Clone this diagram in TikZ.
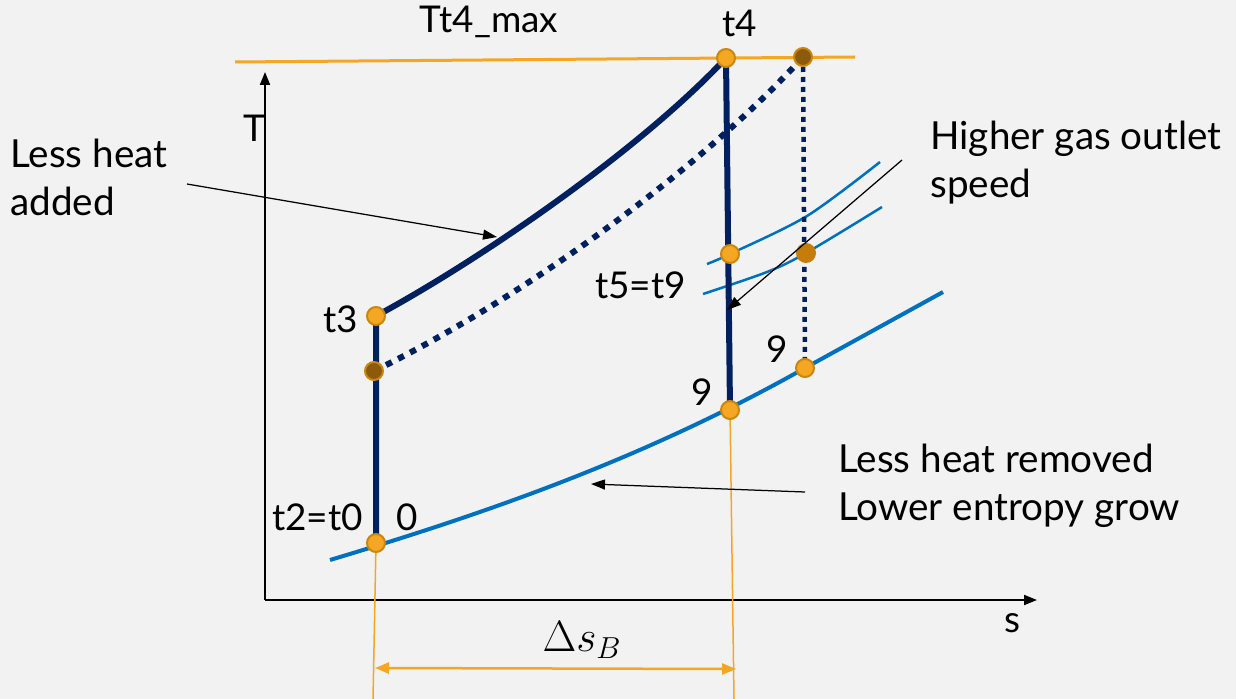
\documentclass[tikz,border=0pt]{standalone}
\usepackage{fontspec}
\setmainfont{Lato}
\usetikzlibrary{arrows.meta,positioning,calc}
\definecolor{navy}{HTML}{002060}
\definecolor{isoblue}{HTML}{0070C0}
\definecolor{tmax}{HTML}{F5A623}
\definecolor{bg}{HTML}{F2F2F2}
\definecolor{ptedge}{HTML}{C8870F}
\definecolor{ptdark}{HTML}{C47D0A}
\definecolor{ptbrown}{HTML}{8C5A0A}

\begin{document}
\begin{tikzpicture}[x=0.02cm,y=-0.02cm,
    pt/.style={circle,draw=ptedge,line width=0.04cm,fill=tmax,inner sep=0pt,minimum size=0.36cm},
    lbl/.style={font=\fontsize{21}{27.3}\selectfont,inner sep=0pt},
    note/.style={lbl,font=\fontsize{22}{27.3}\selectfont,align=left,anchor=base west},
    mainpath/.style={navy,line width=0.12cm,line join=round},
    dotpath/.style={navy,line width=0.12cm,dash pattern=on 0.13cm off 0.14cm},
    pointer/.style={black,line width=0.025cm,-{Triangle[length=0.28cm,width=0.2cm]}}]
  \fill[bg] (0,0) rectangle (1236,699);
  \useasboundingbox (0,0) rectangle (1236,699);

  % state points
  \coordinate (p0) at (376,543);
  \coordinate (p3) at (376,316);
  \coordinate (p3b) at (374,371);
  \coordinate (p4) at (726,58);
  \coordinate (p4b) at (803,57);
  \coordinate (p5) at (730,254);
  \coordinate (p5b) at (806,253);
  \coordinate (p9) at (730,410);
  \coordinate (p9b) at (805,368);

  % Tt4 limit, axes and entropy span
  \draw[tmax,line width=0.06cm] (235,62) coordinate (lim1) -- (855,57) coordinate (lim2);
  \draw[line width=0.04cm,-{Triangle[length=0.26cm,width=0.2cm]}] (265,600) coordinate (org) -- (265,72) coordinate (taxis);
  \draw[line width=0.04cm,-{Triangle[length=0.26cm,width=0.2cm]}] (org) -- (1037,600) coordinate (saxis);
  \draw[tmax,line width=0.03cm] (p0) -- (373,699) coordinate (ds1);
  \draw[tmax,line width=0.03cm] (p9) -- (734,699) coordinate (ds2);
  \draw[tmax,line width=0.05cm,{Triangle[length=0.28cm,width=0.22cm]}-{Triangle[length=0.28cm,width=0.22cm]}]
    (375,668) coordinate (dsa) -- (736,669) coordinate (dsb);

  % isobars
  \draw[isoblue,line width=0.08cm] (330,560) .. controls (490,512) and (645,458) .. (p9b) -- (943,292);
  \draw[isoblue,line width=0.05cm] plot[smooth] coordinates {(707,264) (730,254) (807,216) (880,162)};
  \draw[isoblue,line width=0.05cm] plot[smooth] coordinates {(703,294) (767,272) (806,253) (882,207)};

  % cycles
  \draw[mainpath] (p0) -- (p3) .. controls (480,260) and (640,150) .. (p4) -- (p9);
  \draw[dotpath] (p3b) .. controls (520,300) and (700,170) .. (p4b);
  \draw[navy,line width=0.09cm,dash pattern=on 0.1cm off 0.1cm] (p4b) -- (p9b);

  \node[pt] (n0) at (p0) {};
  \node[pt] (n3) at (p3) {};
  \node[pt,fill=ptbrown] (n3b) at (p3b) {};
  \node[pt] (n4) at (p4) {};
  \node[pt,fill=ptbrown] (n4b) at (p4b) {};
  \node[pt] (n5) at (p5) {};
  \node[pt,fill=ptdark,draw=ptdark] (n5b) at (p5b) {};
  \node[pt] (n9) at (p9) {};
  \node[pt] (n9b) at (p9b) {};

  % labels
  \node[lbl,anchor=base] (tmaxlbl) at (489,33) {Tt4\_max};
  \node[lbl,anchor=base] (t4lbl) at (740,37) {t4};
  \node[lbl,anchor=base] (tlbl) at (254,142) {T};
  \node[lbl,anchor=base] (slbl) at (1012,632) {s};
  \node[lbl,anchor=base east] (t3lbl) at (358,332) {t3};
  \node[lbl,anchor=base east] (t0lbl) at (363,530) {t2=t0};
  \node[lbl,anchor=base] (zerolbl) at (407,530) {0};
  \node[lbl,anchor=base east] (t9lbl) at (686,298) {t5=t9};
  \node[lbl] (ninea) at (777,349) {9};
  \node[lbl] (nineb) at (702,392) {9};
  \node[lbl,font=\fontsize{24}{28}\selectfont] (dslbl) at (582,640) {$\Delta s_B$};

  \node[note] (added) at (10,215) {Less heat\\added};
  \node[note] (speed) at (930,197) {Higher gas outlet\\speed};
  \node[note] (removed) at (838,520) {Less heat removed\\Lower entropy grow};

  % pointers
  \coordinate (a1) at (187,184);
  \coordinate (a1e) at (497,237);
  \draw[pointer] (a1) -- (a1e);
  \coordinate (a2) at (902,160);
  \coordinate (a2e) at (727,310);
  \draw[pointer] (a2) -- (a2e);
  \coordinate (a3) at (805,492);
  \coordinate (a3e) at (591,484);
  \draw[pointer] (a3) -- (a3e);
\end{tikzpicture}
\end{document}
